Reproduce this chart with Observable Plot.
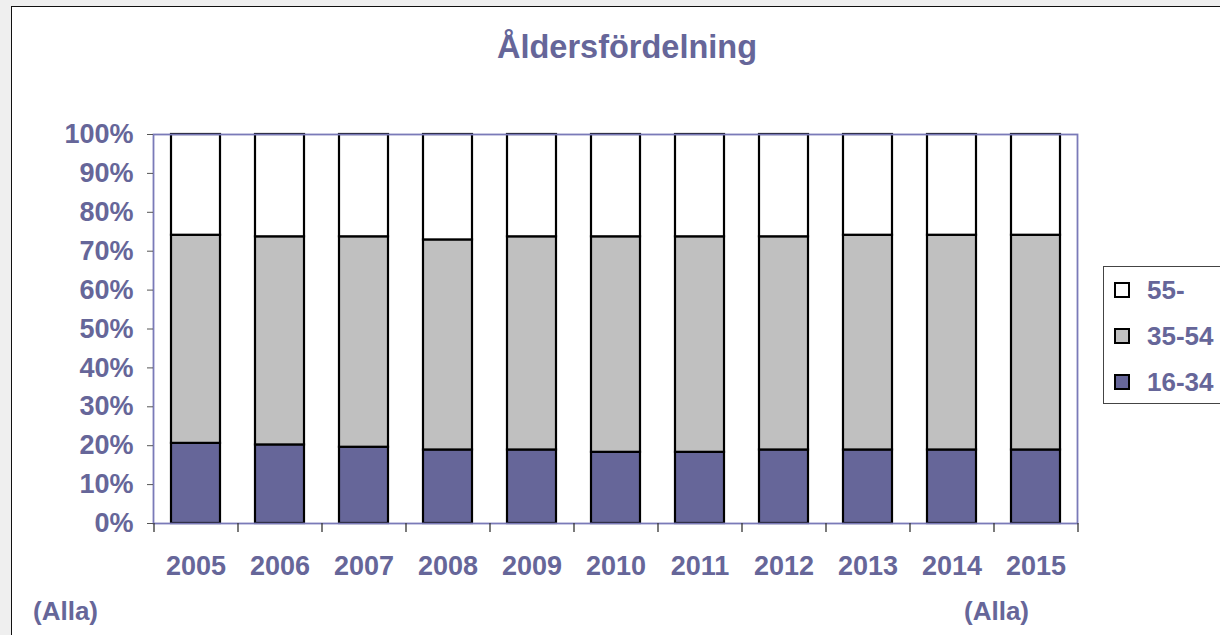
<!DOCTYPE html>
<html>
<head>
<meta charset="utf-8">
<script src="https://cdn.jsdelivr.net/npm/d3@7"></script>
<script src="https://cdn.jsdelivr.net/npm/@observablehq/plot@0.6"></script>
<style>
  html, body { margin: 0; padding: 0; }
  body { width: 1220px; height: 635px; background: #efefef; position: relative; overflow: hidden;
         font-family: "Liberation Sans", Arial, sans-serif; font-weight: bold; color: #666699; }
  #frame { position: absolute; left: 11px; top: 6px; width: 1300px; height: 700px; background: #fff; border: 1.5px solid #111; }
  #chart { position: absolute; left: 0; top: 0; }
  #title { position: absolute; left: 0; width: 1254px; top: 29px; text-align: center; font-size: 32.5px; }
  .note { position: absolute; top: 596px; font-size: 26px; }
  #legend { position: absolute; left: 1103px; top: 266px; width: 200px; height: 136px; border: 1.5px solid #444; background: #fff; }
  .item { position: absolute; left: 10px; height: 30px; display: flex; align-items: center; font-size: 26px; }
  .sw { width: 12px; height: 12px; border: 2px solid #000; margin-right: 17px; }
</style>
</head>
<body>
<div id="frame"></div>
<div id="chart"></div>
<div id="title">Åldersfördelning</div>
<div class="note" style="left:33px">(Alla)</div>
<div class="note" style="left:964px">(Alla)</div>
<div id="legend"></div>
<script>
const years = ["2005","2006","2007","2008","2009","2010","2011","2012","2013","2014","2015"];
const seriesNames = ["16-34","35-54","55-"];
const seriesColors = ["#666699","#c0c0c0","#ffffff"];
const young  = [20.6, 20.2, 19.6, 18.9, 18.9, 18.3, 18.3, 18.9, 18.9, 18.9, 18.9];
const middle = [53.5, 53.5, 54.1, 54.0, 54.8, 55.4, 55.4, 54.8, 55.2, 55.2, 55.2];
const old    = [25.9, 26.3, 26.3, 27.1, 26.3, 26.3, 26.3, 26.3, 25.9, 25.9, 25.9];
const yTicks = [0,10,20,30,40,50,60,70,80,90,100];

const seriesValues = [young, middle, old];
const data = [];
years.forEach((yr, i) => seriesNames.forEach((s, k) => data.push({year: yr, group: s, value: seriesValues[k][i]})));

const W = 1220, H = 635;
const mL = 153, mR = 143, mT = 134, mB = 112;
const step = (W - mL - mR) / years.length;
const plotH = H - mT - mB;

const chart = Plot.plot({
  width: W, height: H,
  marginLeft: mL, marginRight: mR, marginTop: mT, marginBottom: mB,
  style: {fontFamily: "Liberation Sans, Arial, sans-serif", fontWeight: "bold", fontSize: "27px", color: "#666699", background: "transparent", overflow: "visible"},
  x: {domain: years, paddingInner: 0.42, paddingOuter: 0.21, label: null},
  y: {domain: [0, 100], label: null},
  color: {domain: seriesNames, range: seriesColors},
  marks: [
    Plot.barY(data, Plot.stackY({order: seriesNames}, {x: "year", y: "value", fill: "group", stroke: "#000", strokeWidth: 2.2})),
    Plot.frame({stroke: "#7a7ab8", strokeWidth: 1.8}),
    Plot.axisY({ticks: yTicks, tickSize: 6, tickPadding: 14, stroke: "#555", tickFormat: d => d + "%", fill: "#666699", fontSize: 27}),
    Plot.axisX({tickSize: 0, tickPadding: 32, fill: "#666699", fontSize: 27}),
    Plot.ruleX(years, {x: d => d, dx: -step / 2, insetTop: plotH, insetBottom: -9, stroke: "#333", strokeWidth: 1.3}),
    Plot.ruleX(years.slice(-1), {x: d => d, dx: step / 2, insetTop: plotH, insetBottom: -9, stroke: "#333", strokeWidth: 1.3})
  ]
});
document.getElementById("chart").appendChild(chart);

const legend = document.getElementById("legend");
const legendOrder = ["55-", "35-54", "16-34"];
legendOrder.forEach((name, i) => {
  const it = document.createElement("div");
  it.className = "item";
  it.style.top = (8 + i * 46) + "px";
  const sw = document.createElement("span");
  sw.className = "sw";
  sw.style.background = seriesColors[seriesNames.indexOf(name)];
  it.appendChild(sw);
  it.appendChild(document.createTextNode(name));
  legend.appendChild(it);
});
</script>
</body>
</html>
